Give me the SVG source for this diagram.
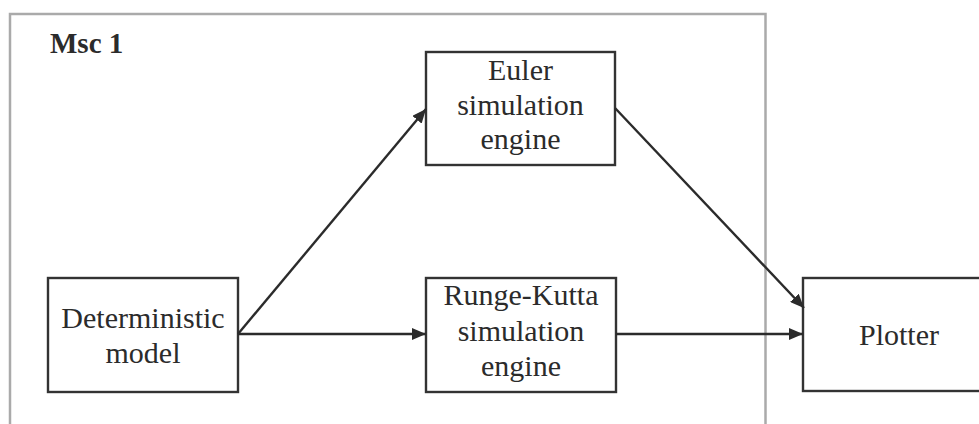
<svg xmlns="http://www.w3.org/2000/svg" width="979" height="424" viewBox="0 0 979 424">
<defs>
<marker id="ah" markerWidth="14" markerHeight="12" refX="14" refY="6" orient="auto" markerUnits="userSpaceOnUse">
<path d="M0,0 L14,6 L0,12 Z" fill="#2b2b2b"/>
</marker>
<style>
.box{fill:#fff;stroke:#333;stroke-width:2.4}
.t{font-family:"Liberation Serif","Times New Roman",serif;font-size:30px;fill:#2b2b2b;text-anchor:middle}
.c{fill:none;stroke:#2b2b2b;stroke-width:2.4}
</style>
</defs>
<rect width="979" height="424" fill="#fff"/>
<g id="frame">
<rect x="10" y="14" width="755.5" height="420" fill="none" stroke="#aaa" stroke-width="2.5"/>
<text x="50" y="53" font-family="Liberation Serif, serif" font-size="29" font-weight="bold" fill="#2b2b2b">Msc 1</text>
</g>
<g id="n-det">
<rect class="box" x="48" y="278" width="190" height="114"/>
<text class="t" x="143" y="328">Deterministic</text>
<text class="t" x="143" y="363">model</text>
</g>
<g id="n-euler">
<rect class="box" x="426" y="52" width="189" height="113"/>
<text class="t" x="520.5" y="80">Euler</text>
<text class="t" x="520.5" y="115">simulation</text>
<text class="t" x="520.5" y="149">engine</text>
</g>
<g id="n-rk">
<rect class="box" x="426" y="278" width="190" height="114"/>
<text class="t" x="521" y="305">Runge-Kutta</text>
<text class="t" x="521" y="341">simulation</text>
<text class="t" x="521" y="376">engine</text>
</g>
<g id="n-plotter">
<rect class="box" x="803" y="278" width="190" height="113"/>
<text class="t" x="899" y="345">Plotter</text>
</g>
<g id="connectors">
<line class="c" x1="238" y1="334" x2="426" y2="334" marker-end="url(#ah)"/>
<line class="c" x1="616" y1="334" x2="803" y2="334" marker-end="url(#ah)"/>
<line class="c" x1="238" y1="334" x2="426" y2="109" marker-end="url(#ah)"/>
<line class="c" x1="615" y1="108" x2="804" y2="308" marker-end="url(#ah)"/>
</g>
</svg>
